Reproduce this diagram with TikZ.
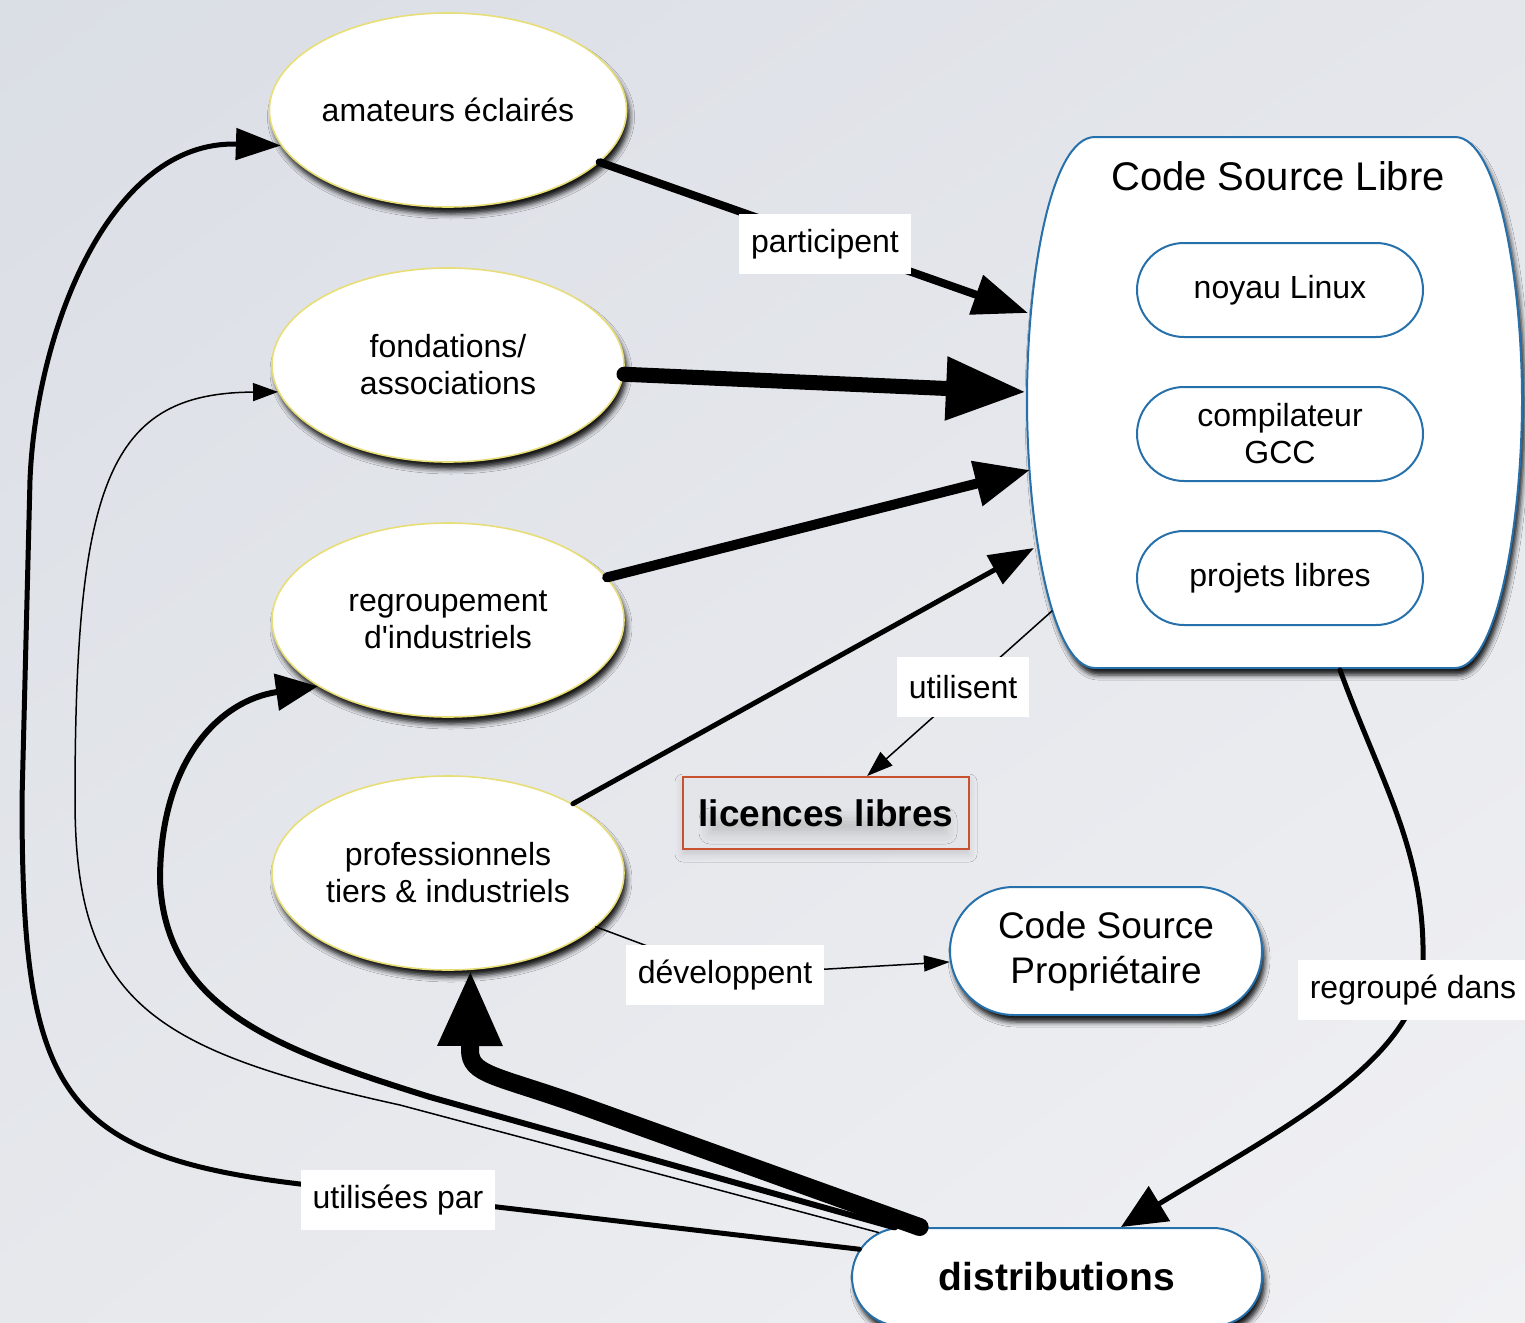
\documentclass[tikz,border=0pt]{standalone}
\usepackage{fontspec}
\setmainfont{Liberation Sans}
\usetikzlibrary{shapes.geometric,shapes.misc,arrows.meta,shadows.blur,shadings}

\definecolor{ellborder}{RGB}{232,222,120}
\definecolor{pillblue}{RGB}{38,112,172}
\definecolor{licborder}{RGB}{200,82,48}
\definecolor{licfill}{RGB}{228,229,232}
\definecolor{bgA}{RGB}{218,222,229}
\definecolor{bgB}{RGB}{228,230,235}
\definecolor{bgC}{RGB}{230,232,236}
\definecolor{bgD}{RGB}{241,241,244}

\begin{document}
\begin{tikzpicture}[x=1pt,y=-1pt,
  dropshade/.style={blur shadow={shadow xshift=3pt, shadow yshift=-7pt, shadow blur radius=5pt, shadow opacity=90}},
  actor/.style={ellipse, draw=ellborder, line width=1.6pt, fill=white,
    minimum width=352pt, minimum height=194pt, inner sep=0pt, align=center,
    font=\fontsize{32}{37}\selectfont, dropshade},
  pill/.style={rounded rectangle, draw=pillblue, line width=2pt, fill=white,
    minimum width=286pt, minimum height=94pt, inner sep=0pt, align=center,
    font=\fontsize{32}{37}\selectfont},
  bigpill/.style={pill, dropshade},
  lbl/.style={fill=white, minimum height=60pt, inner xsep=12pt, inner ysep=0pt,
    font=\fontsize{32}{37}\selectfont},
  flow/.style={draw=black, line cap=round},
]

% backdrop
\useasboundingbox (0,0) rectangle (1525,1322);
\shade[upper left=bgA, upper right=bgB, lower left=bgC, lower right=bgD] (0,0) rectangle (1525,1322);

% the "Code Source Libre" container
\path[draw=pillblue, line width=2pt, fill=white, dropshade]
  (1095,137) -- (1455,137)
  .. controls (1498,137) and (1522,280) .. (1522,400)
  .. controls (1522,520) and (1498,668) .. (1455,668)
  -- (1095,668)
  .. controls (1050,668) and (1027,520) .. (1027,400)
  .. controls (1027,280) and (1050,137) .. (1095,137) -- cycle;
\node[font=\fontsize{40}{44}\selectfont] (csltitle) at (1278,176) {Code Source Libre};
\node[pill] (linux) at (1280,290) {noyau Linux};
\node[pill] (gcc) at (1280,434) {compilateur\\GCC};
\node[pill] (projets) at (1280,578) {projets libres};

% points on the container border where connectors meet it
\coordinate (cslA) at (1028,313);
\coordinate (cslB) at (1026,392);
\coordinate (cslC) at (1030,470);
\coordinate (cslD) at (1034,548);
\coordinate (cslE) at (1052,611);
\coordinate (cslF) at (1340,670);

% actors
\node[actor] (amat) at (448,110) {amateurs éclairés};
\node[actor] (fond) at (448,365) {fondations/\\associations};
\node[actor] (regr) at (448,620) {regroupement\\d\textquotesingle industriels};
\node[actor] (prof) at (448,873) {professionnels\\tiers \& industriels};

% licences box with its soft shadow and a smudge under the bold text
\node[draw=licborder, line width=2pt, fill=licfill, minimum width=286pt, minimum height=72pt,
  blur shadow={shadow xshift=0pt, shadow yshift=-5pt, shadow blur radius=8pt, shadow opacity=14}]
  (lic) at (826,813) {};
\node[minimum width=236pt, minimum height=14pt, inner sep=0pt,
  blur shadow={shadow xshift=0pt, shadow yshift=0pt, shadow blur radius=11pt, shadow opacity=16}]
  (licglow) at (828,826) {};
\node[font=\fontsize{37}{40}\selectfont\bfseries] (lictext) at (826,813) {licences libres};

\node[bigpill, minimum width=312pt, minimum height=128pt, font=\fontsize{37}{45}\selectfont] (csp) at (1106,951) {Code Source\\Propriétaire};
\node[bigpill, minimum width=410pt, minimum height=98pt, font=\fontsize{39}{44}\selectfont\bfseries] (dist) at (1057,1277) {distributions};

% label anchors
\coordinate (lpart) at (825,244);
\coordinate (lutil) at (963,687);
\coordinate (ldev) at (725,975);
\coordinate (lregr) at (1413,990);
\coordinate (luse) at (398,1200);

% contributions towards the free source code
\draw[flow, line width=8pt, -{Triangle[length=55pt,width=40pt]}] (amat.-19) -- (cslA);
\draw[flow, line width=15pt, -{Triangle[length=80pt,width=60pt]}] (fond.-3) -- (cslB);
\draw[flow, line width=10pt, -{Triangle[length=55pt,width=44pt]}] (regr.15) -- (cslC);
\draw[flow, line width=5pt, -{Triangle[length=45pt,width=32pt]}] (prof.29) -- (cslD);

% licences and proprietary code
\draw[flow, line width=1.5pt, -{Triangle[length=26pt,width=18pt]}] (cslE) -- (lic.42);
\draw[flow, line width=1.5pt, -{Triangle[length=26pt,width=16pt]}] (prof.-20) -- (ldev) -- (csp.184);

% bundling into distributions
\draw[flow, line width=5pt, -{Triangle[length=45pt,width=40pt]}]
  (cslF) .. controls (1380,780) and (1425,850) .. (1423,960)
  .. controls (1420,1060) and (1280,1130) .. (dist.38);

% distributions feeding back to every actor
\draw[flow, line width=5pt, -{Triangle[length=45pt,width=31pt]}]
  (dist.172) -- (300,1184)
  .. controls (57,1155) and (22,1090) .. (22,800)
  -- (30,480)
  .. controls (36,330) and (110,140) .. (amat.-168);
\draw[flow, line width=1.5pt, -{Triangle[length=25pt,width=18pt]}]
  (dist.166) -- (400,1105)
  .. controls (150,1050) and (75,1000) .. (75,800)
  .. controls (75,480) and (110,393) .. (fond.-171);
\draw[flow, line width=6pt, -{Triangle[length=42pt,width=36pt]}]
  (dist.163) -- (430,1097)
  .. controls (280,1050) and (165,1010) .. (160,880)
  .. controls (160,760) and (220,700) .. (regr.-153);
\draw[flow, line width=18pt, -{Triangle[length=76pt,width=60pt]}]
  (dist.160) -- (580,1105)
  .. controls (495,1075) and (470,1075) .. (470,1050) -- (prof.-77);

% edge labels
\node[lbl] (tpart) at (lpart) {participent};
\node[lbl] (tutil) at (lutil) {utilisent};
\node[lbl] (tdev) at (ldev) {développent};
\node[lbl] (tregr) at (lregr) {regroupé dans};
\node[lbl] (tuse) at (luse) {utilisées par};

\end{tikzpicture}
\end{document}
